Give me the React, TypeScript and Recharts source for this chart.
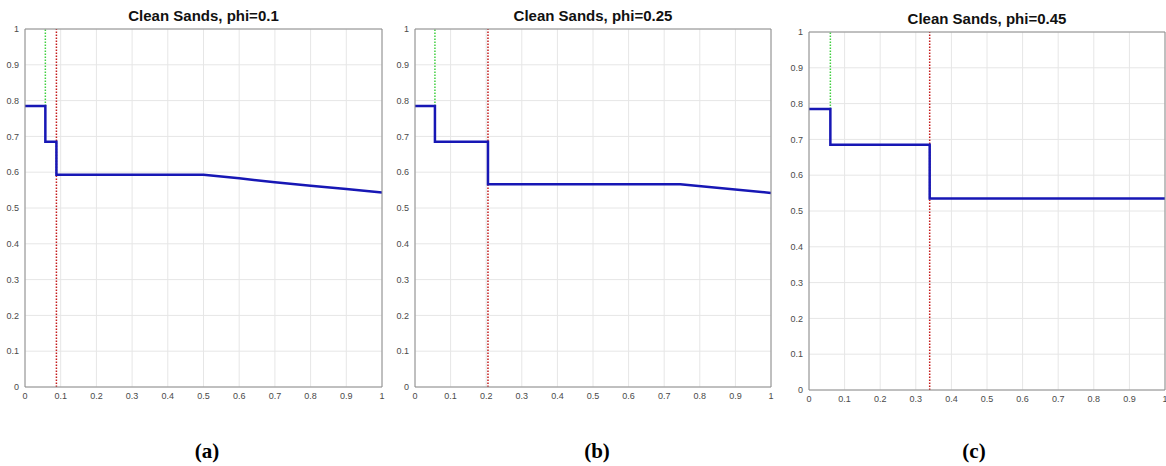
import React from 'react';
import { LineChart, Line, XAxis, YAxis, CartesianGrid } from 'recharts';

// shared axis ticks for all three panels
const xTicks = [0, 0.1, 0.2, 0.3, 0.4, 0.5, 0.6, 0.7, 0.8, 0.9, 1];
const yTicks = [0, 0.1, 0.2, 0.3, 0.4, 0.5, 0.6, 0.7, 0.8, 0.9, 1];

// phi = 0.1
const stepXA = [0, 0.057, 0.057, 0.088, 0.088, 0.5, 0.6, 0.7, 0.8, 0.9, 1];
const stepYA = [0.785, 0.785, 0.685, 0.685, 0.593, 0.593, 0.583, 0.572, 0.562, 0.553, 0.543];
const greenXA = 0.057;
const redXA = 0.088;

// phi = 0.25
const stepXB = [0, 0.056, 0.056, 0.205, 0.205, 0.745, 1];
const stepYB = [0.785, 0.785, 0.685, 0.685, 0.566, 0.566, 0.542];
const greenXB = 0.056;
const redXB = 0.205;

// phi = 0.45
const stepXC = [0, 0.06, 0.06, 0.339, 0.339, 1];
const stepYC = [0.785, 0.785, 0.685, 0.685, 0.535, 0.535];
const greenXC = 0.06;
const redXC = 0.339;

const greenTop = 0.785;

const toPoints = (xs: number[], ys: number[]) => xs.map((x, i) => ({ x, y: ys[i] }));

const fmt = (v: number) => String(+v.toFixed(1));

const TICK_STYLE = { fontSize: 9, fill: '#4a4a4a', fontFamily: 'Liberation Sans, Arial, sans-serif' };
const AXIS_COLOR = '#8c8c8c';

type PanelProps = {
  left: number;
  top: number;
  width: number;
  title: string;
  label: string;
  labelX: number;
  stepX: number[];
  stepY: number[];
  greenX: number;
  redX: number;
};

const CHART_H = 420;

function Panel({ left, top, width, title, label, labelX, stepX, stepY, greenX, redX }: PanelProps) {
  const plotLeft = left + 25;
  const plotRight = left + width - 8;
  const centre = (plotLeft + plotRight) / 2;

  return (
    <>
      <div
        style={{
          position: 'absolute',
          left: centre - 150,
          width: 300,
          top: top + 7,
          textAlign: 'center',
          fontFamily: 'Liberation Sans, Arial, sans-serif',
          fontWeight: 'bold',
          fontSize: 15,
          lineHeight: '18px',
          color: '#111',
        }}
      >
        {title}
      </div>
      <div style={{ position: 'absolute', left, top }}>
        <LineChart width={width} height={CHART_H} margin={{ top: 29, right: 8, left: 0, bottom: 3 }}>
          <CartesianGrid stroke="#e6e6e6" strokeWidth={1} />
          <XAxis
            type="number"
            dataKey="x"
            domain={[0, 1]}
            ticks={xTicks}
            tickFormatter={fmt}
            height={30}
            axisLine={{ stroke: AXIS_COLOR }}
            tickLine={false}
            tickSize={0}
            tickMargin={6}
            tick={TICK_STYLE}
            interval={0}
            allowDataOverflow
          />
          {/* inward tick marks on all four sides, like a boxed axes */}
          <XAxis xAxisId="bin" type="number" domain={[0, 1]} ticks={xTicks} mirror tick={false}
            tickSize={4} tickLine={{ stroke: AXIS_COLOR }} axisLine={false} interval={0} allowDataOverflow />
          <XAxis xAxisId="top" orientation="top" type="number" domain={[0, 1]} ticks={xTicks} mirror tick={false}
            tickSize={4} tickLine={{ stroke: AXIS_COLOR }} axisLine={{ stroke: AXIS_COLOR }} interval={0} allowDataOverflow />
          <YAxis
            type="number"
            domain={[0, 1]}
            ticks={yTicks}
            tickFormatter={fmt}
            width={25}
            axisLine={{ stroke: AXIS_COLOR }}
            tickLine={false}
            tickSize={0}
            tickMargin={6}
            tick={TICK_STYLE}
            interval={0}
            allowDataOverflow
          />
          <YAxis yAxisId="lin" type="number" domain={[0, 1]} ticks={yTicks} mirror tick={false}
            tickSize={4} tickLine={{ stroke: AXIS_COLOR }} axisLine={false} interval={0} allowDataOverflow />
          <YAxis yAxisId="right" orientation="right" type="number" domain={[0, 1]} ticks={yTicks} mirror tick={false}
            tickSize={4} tickLine={{ stroke: AXIS_COLOR }} axisLine={{ stroke: AXIS_COLOR }} interval={0} allowDataOverflow />

          <Line
            data={toPoints([greenX, greenX], [greenTop, 1])}
            dataKey="y"
            stroke="#3fcf3f"
            strokeWidth={1.5}
            strokeDasharray="1.5 1.5"
            dot={false}
            isAnimationActive={false}
          />
          <Line
            data={toPoints([redX, redX], [0, 1])}
            dataKey="y"
            stroke="#c41a1a"
            strokeWidth={1.5}
            strokeDasharray="1.5 1.5"
            dot={false}
            isAnimationActive={false}
          />
          <Line
            data={toPoints(stepX, stepY)}
            dataKey="y"
            stroke="#1717b5"
            strokeWidth={2.5}
            dot={false}
            isAnimationActive={false}
          />
        </LineChart>
      </div>
      <div
        style={{
          position: 'absolute',
          left: labelX - 40,
          width: 80,
          top: 438,
          textAlign: 'center',
          fontFamily: 'Liberation Serif, Times New Roman, serif',
          fontWeight: 'bold',
          fontSize: 21,
          lineHeight: '26px',
          color: '#000',
        }}
      >
        {label}
      </div>
    </>
  );
}

export default function App() {
  return (
    <div
      style={{
        position: 'absolute',
        left: 0,
        top: 0,
        width: 1166,
        height: 466,
        overflow: 'hidden',
        background: '#fff',
      }}
    >
      <Panel left={0} top={0} width={390} title="Clean Sands, phi=0.1" label="(a)" labelX={207}
        stepX={stepXA} stepY={stepYA} greenX={greenXA} redX={redXA} />
      <Panel left={390} top={0} width={389} title="Clean Sands, phi=0.25" label="(b)" labelX={597}
        stepX={stepXB} stepY={stepYB} greenX={greenXB} redX={redXB} />
      <Panel left={784} top={3} width={389} title="Clean Sands, phi=0.45" label="(c)" labelX={974}
        stepX={stepXC} stepY={stepYC} greenX={greenXC} redX={redXC} />
    </div>
  );
}
